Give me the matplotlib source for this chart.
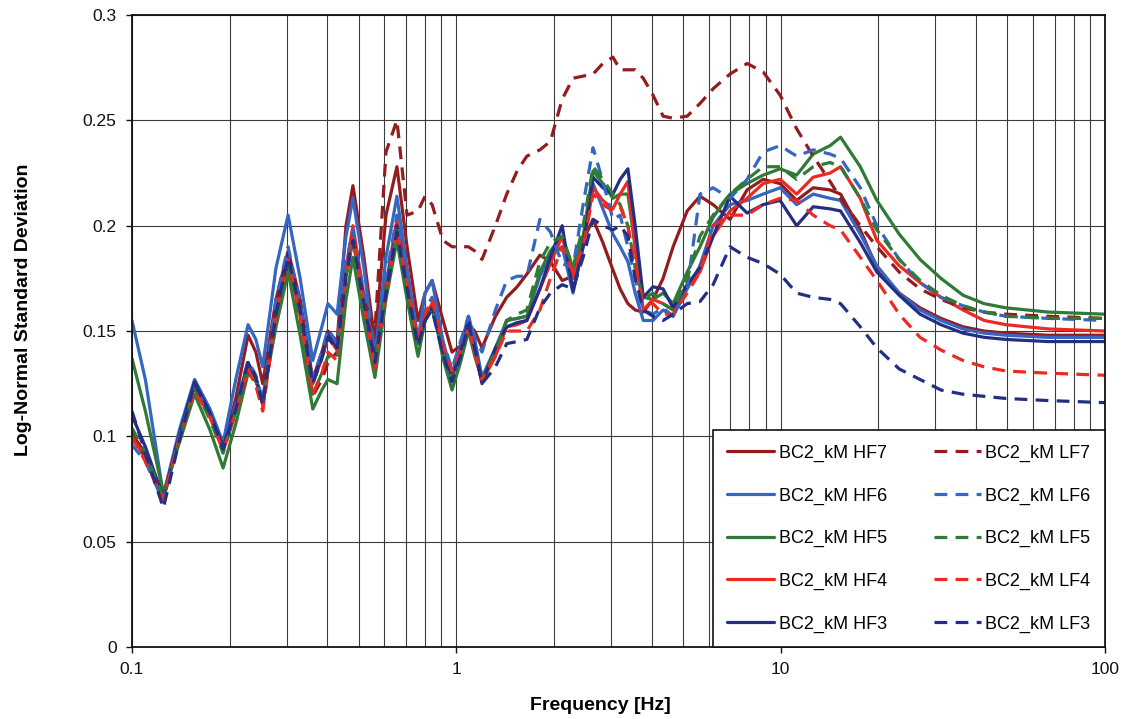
import numpy as np
import matplotlib
matplotlib.use('Agg')
import matplotlib.pyplot as plt
from matplotlib.ticker import LogLocator, NullFormatter, FixedLocator

plt.rcParams['font.family'] = ['Liberation Sans', 'DejaVu Sans']

# frequency points (Hz) shared by all series
freq = [0.100, 0.110, 0.125, 0.140, 0.156, 0.174, 0.191, 0.209, 0.228, 0.241,
        0.253, 0.278, 0.303, 0.330, 0.361, 0.385, 0.402, 0.429, 0.457, 0.480,
        0.519, 0.561, 0.607, 0.656, 0.705, 0.762, 0.801, 0.842, 0.910, 0.970,
        1.03, 1.09, 1.14, 1.20, 1.32, 1.43, 1.54, 1.65, 1.81, 1.95,
        2.12, 2.29, 2.46, 2.64, 2.83, 3.04, 3.20, 3.38, 3.56, 3.77,
        4.04, 4.34, 4.66, 5.15, 5.64, 6.19, 6.98, 7.88, 8.83, 9.96,
        11.2, 12.6, 14.2, 15.3, 17.6, 19.8, 23.2, 26.9, 31.2, 36.5,
        42.4, 49.5, 66.8, 100.0]

hf7 = [0.101, 0.092, 0.071, 0.100, 0.125, 0.111, 0.096, 0.118, 0.148, 0.140,
       0.125, 0.165, 0.188, 0.165, 0.127, 0.140, 0.150, 0.145, 0.200, 0.219,
       0.185, 0.145, 0.205, 0.228, 0.190, 0.155, 0.168, 0.174, 0.155, 0.140,
       0.143, 0.153, 0.150, 0.142, 0.157, 0.166, 0.171, 0.177, 0.186, 0.183,
       0.174, 0.176, 0.193, 0.203, 0.192, 0.179, 0.170, 0.163, 0.160, 0.159,
       0.165, 0.175, 0.190, 0.207, 0.214, 0.210, 0.203, 0.217, 0.222, 0.220,
       0.212, 0.218, 0.217, 0.215, 0.198, 0.180, 0.168, 0.161, 0.156, 0.152,
       0.150, 0.149, 0.148, 0.148]

hf6 = [0.155, 0.127, 0.072, 0.103, 0.127, 0.113, 0.097, 0.127, 0.153, 0.146,
       0.133, 0.180, 0.205, 0.175, 0.136, 0.152, 0.163, 0.158, 0.195, 0.213,
       0.180, 0.138, 0.185, 0.214, 0.180, 0.146, 0.168, 0.174, 0.145, 0.130,
       0.143, 0.157, 0.146, 0.128, 0.142, 0.155, 0.156, 0.157, 0.176, 0.186,
       0.190, 0.168, 0.190, 0.220, 0.208, 0.196, 0.190, 0.183, 0.168, 0.155,
       0.155, 0.160, 0.157, 0.170, 0.181, 0.200, 0.210, 0.212, 0.215, 0.218,
       0.210, 0.215, 0.213, 0.212, 0.196, 0.181, 0.168, 0.160, 0.155, 0.151,
       0.149, 0.148, 0.147, 0.147]

hf5 = [0.137, 0.112, 0.073, 0.097, 0.120, 0.103, 0.085, 0.106, 0.130, 0.126,
       0.118, 0.152, 0.178, 0.148, 0.113, 0.122, 0.127, 0.125, 0.165, 0.185,
       0.155, 0.128, 0.165, 0.193, 0.165, 0.138, 0.155, 0.163, 0.137, 0.122,
       0.135, 0.150, 0.138, 0.127, 0.140, 0.155, 0.156, 0.157, 0.178, 0.188,
       0.195, 0.180, 0.195, 0.226, 0.220, 0.213, 0.215, 0.215, 0.190, 0.166,
       0.165, 0.168, 0.163, 0.178, 0.190, 0.204, 0.215, 0.220, 0.224, 0.227,
       0.224, 0.234, 0.238, 0.242, 0.228, 0.212, 0.196, 0.184, 0.175, 0.167,
       0.163, 0.161, 0.159, 0.158]

hf4 = [0.099, 0.090, 0.072, 0.100, 0.124, 0.110, 0.094, 0.113, 0.134, 0.127,
       0.115, 0.160, 0.186, 0.160, 0.125, 0.137, 0.147, 0.141, 0.180, 0.200,
       0.167, 0.136, 0.172, 0.203, 0.174, 0.145, 0.157, 0.163, 0.142, 0.130,
       0.141, 0.153, 0.140, 0.126, 0.138, 0.152, 0.153, 0.155, 0.170, 0.182,
       0.195, 0.175, 0.190, 0.218, 0.212, 0.208, 0.215, 0.221, 0.190, 0.160,
       0.165, 0.163, 0.160, 0.172, 0.178, 0.195, 0.207, 0.213, 0.220, 0.222,
       0.215, 0.223, 0.225, 0.228, 0.213, 0.193, 0.181, 0.173, 0.166, 0.160,
       0.155, 0.153, 0.151, 0.150]

hf3 = [0.110, 0.095, 0.071, 0.101, 0.126, 0.111, 0.095, 0.114, 0.135, 0.128,
       0.116, 0.160, 0.187, 0.160, 0.126, 0.138, 0.149, 0.142, 0.178, 0.195,
       0.165, 0.136, 0.170, 0.200, 0.172, 0.144, 0.155, 0.161, 0.140, 0.128,
       0.140, 0.155, 0.142, 0.125, 0.142, 0.152, 0.154, 0.155, 0.170, 0.185,
       0.200, 0.169, 0.190, 0.223, 0.218, 0.215, 0.222, 0.227, 0.200, 0.166,
       0.171, 0.170, 0.161, 0.172, 0.180, 0.195, 0.214, 0.206, 0.210, 0.212,
       0.200, 0.209, 0.208, 0.207, 0.192, 0.178, 0.167, 0.158, 0.153, 0.149,
       0.147, 0.146, 0.145, 0.145]

lf7 = [0.102, 0.090, 0.070, 0.099, 0.123, 0.109, 0.094, 0.112, 0.131, 0.125,
       0.113, 0.158, 0.184, 0.158, 0.119, 0.127, 0.135, 0.140, 0.178, 0.196,
       0.165, 0.150, 0.235, 0.250, 0.205, 0.207, 0.214, 0.210, 0.193, 0.190,
       0.190, 0.190, 0.188, 0.184, 0.200, 0.215, 0.226, 0.233, 0.236, 0.240,
       0.260, 0.270, 0.271, 0.272, 0.277, 0.280, 0.274, 0.274, 0.274, 0.270,
       0.262, 0.252, 0.251, 0.252, 0.258, 0.265, 0.272, 0.277, 0.273, 0.262,
       0.246, 0.233, 0.221, 0.213, 0.200, 0.190, 0.178, 0.170, 0.165, 0.161,
       0.159, 0.158, 0.157, 0.156]

lf6 = [0.096, 0.088, 0.069, 0.100, 0.124, 0.110, 0.093, 0.115, 0.136, 0.129,
       0.117, 0.165, 0.190, 0.163, 0.128, 0.140, 0.151, 0.144, 0.182, 0.198,
       0.168, 0.136, 0.175, 0.205, 0.176, 0.147, 0.160, 0.166, 0.145, 0.132,
       0.145, 0.157, 0.147, 0.140, 0.160, 0.174, 0.176, 0.176, 0.203, 0.197,
       0.182, 0.180, 0.210, 0.237, 0.221, 0.203, 0.205, 0.190, 0.175, 0.160,
       0.158, 0.161, 0.157, 0.170, 0.215, 0.218, 0.213, 0.222, 0.235, 0.238,
       0.233, 0.236, 0.234, 0.232, 0.218, 0.200, 0.184, 0.173, 0.166, 0.162,
       0.159, 0.157, 0.156, 0.155]

lf5 = [0.104, 0.092, 0.071, 0.099, 0.123, 0.108, 0.092, 0.112, 0.133, 0.127,
       0.116, 0.155, 0.182, 0.155, 0.120, 0.130, 0.138, 0.137, 0.175, 0.193,
       0.163, 0.134, 0.170, 0.198, 0.170, 0.142, 0.155, 0.161, 0.140, 0.127,
       0.138, 0.152, 0.140, 0.128, 0.140, 0.155, 0.158, 0.160, 0.183, 0.192,
       0.195, 0.180, 0.200, 0.228, 0.222, 0.215, 0.210, 0.200, 0.180, 0.165,
       0.168, 0.163, 0.160, 0.175, 0.195, 0.205, 0.215, 0.222, 0.228, 0.228,
       0.222, 0.228, 0.230, 0.228, 0.213, 0.198, 0.184, 0.174, 0.167, 0.162,
       0.159, 0.157, 0.156, 0.156]

lf4 = [0.100, 0.088, 0.070, 0.099, 0.122, 0.109, 0.093, 0.111, 0.132, 0.124,
       0.112, 0.158, 0.184, 0.157, 0.120, 0.130, 0.140, 0.136, 0.176, 0.195,
       0.163, 0.132, 0.168, 0.198, 0.172, 0.146, 0.158, 0.165, 0.143, 0.131,
       0.140, 0.152, 0.140, 0.127, 0.138, 0.150, 0.150, 0.150, 0.160, 0.175,
       0.190, 0.178, 0.190, 0.215, 0.210, 0.207, 0.209, 0.200, 0.180, 0.163,
       0.163, 0.158, 0.158, 0.168, 0.178, 0.200, 0.205, 0.205, 0.210, 0.213,
       0.212, 0.205, 0.200, 0.198, 0.185, 0.174, 0.158, 0.147, 0.141, 0.136,
       0.133, 0.131, 0.130, 0.129]

lf3 = [0.112, 0.092, 0.066, 0.098, 0.125, 0.111, 0.094, 0.113, 0.135, 0.128,
       0.115, 0.158, 0.185, 0.160, 0.125, 0.137, 0.147, 0.141, 0.176, 0.193,
       0.163, 0.135, 0.168, 0.197, 0.170, 0.143, 0.155, 0.160, 0.139, 0.126,
       0.138, 0.153, 0.142, 0.125, 0.133, 0.144, 0.145, 0.146, 0.161, 0.168,
       0.172, 0.170, 0.185, 0.203, 0.200, 0.198, 0.200, 0.195, 0.175, 0.160,
       0.157, 0.155, 0.158, 0.163, 0.164, 0.172, 0.190, 0.185, 0.182, 0.177,
       0.168, 0.166, 0.165, 0.163, 0.152, 0.142, 0.132, 0.127, 0.122, 0.120,
       0.119, 0.118, 0.117, 0.116]

labels_hf = ['BC2_kM HF7', 'BC2_kM HF6', 'BC2_kM HF5', 'BC2_kM HF4', 'BC2_kM HF3']
labels_lf = ['BC2_kM LF7', 'BC2_kM LF6', 'BC2_kM LF5', 'BC2_kM LF4', 'BC2_kM LF3']
colors = ['#951c1e', '#3466c2', '#2e7a36', '#ec2a22', '#222f84']

fig = plt.figure(figsize=(11.24, 7.19), dpi=100)
ax = fig.add_axes([0.1174, 0.1001, 0.8657, 0.879])

hf_data = [hf7, hf6, hf5, hf4, hf3]
lf_data = [lf7, lf6, lf5, lf4, lf3]

handles = []
for vals, lab, c in zip(hf_data, labels_hf, colors):
    h, = ax.plot(freq, vals, color=c, lw=2.3, label=lab,
                 solid_joinstyle='round', solid_capstyle='round')
    handles.append(h)
for vals, lab, c in zip(lf_data, labels_lf, colors):
    h, = ax.plot(freq, vals, color=c, lw=2.3, label=lab, dashes=(4, 2.6))
    handles.append(h)

ax.set_xscale('log')
ax.set_xlim(0.1, 100)
ax.set_ylim(0, 0.3)

ax.xaxis.set_major_locator(FixedLocator([0.1, 1, 10, 100]))
ax.set_xticklabels(['0.1', '1', '10', '100'])
ax.xaxis.set_minor_locator(LogLocator(base=10, subs=range(2, 10)))
ax.xaxis.set_minor_formatter(NullFormatter())
ax.set_yticks([0, 0.05, 0.1, 0.15, 0.2, 0.25, 0.3])
ax.set_yticklabels(['0', '0.05', '0.1', '0.15', '0.2', '0.25', '0.3'])

ax.tick_params(axis='both', which='major', labelsize=12.5, direction='out', length=4,
               width=1, pad=7, colors='#111111')
ax.tick_params(axis='x', which='minor', length=0)

ax.grid(True, which='both', axis='x', color='#3c3c3c', lw=0.8)
ax.grid(True, which='major', axis='y', color='#3c3c3c', lw=0.8)
ax.set_axisbelow(True)
for s in ax.spines.values():
    s.set_color('#111111')
    s.set_linewidth(1.3)

ax.set_xlabel('Frequency [Hz]', fontsize=14, fontweight='bold')
ax.xaxis.set_label_coords(0.481, -0.079)
ax.set_ylabel('Log-Normal Standard Deviation', fontsize=14, fontweight='bold')
ax.yaxis.set_label_coords(-0.103, 0.533)

leg = ax.legend(handles=handles, ncol=2, loc='lower right', fontsize=13,
                borderaxespad=0, frameon=True, fancybox=False, framealpha=1,
                edgecolor='#111111', borderpad=0.8, labelspacing=1.41,
                handlelength=2.6, handletextpad=0.25, columnspacing=2.6)
leg.get_frame().set_linewidth(1.2)

fig.savefig('out.png', dpi=100, facecolor='white')
